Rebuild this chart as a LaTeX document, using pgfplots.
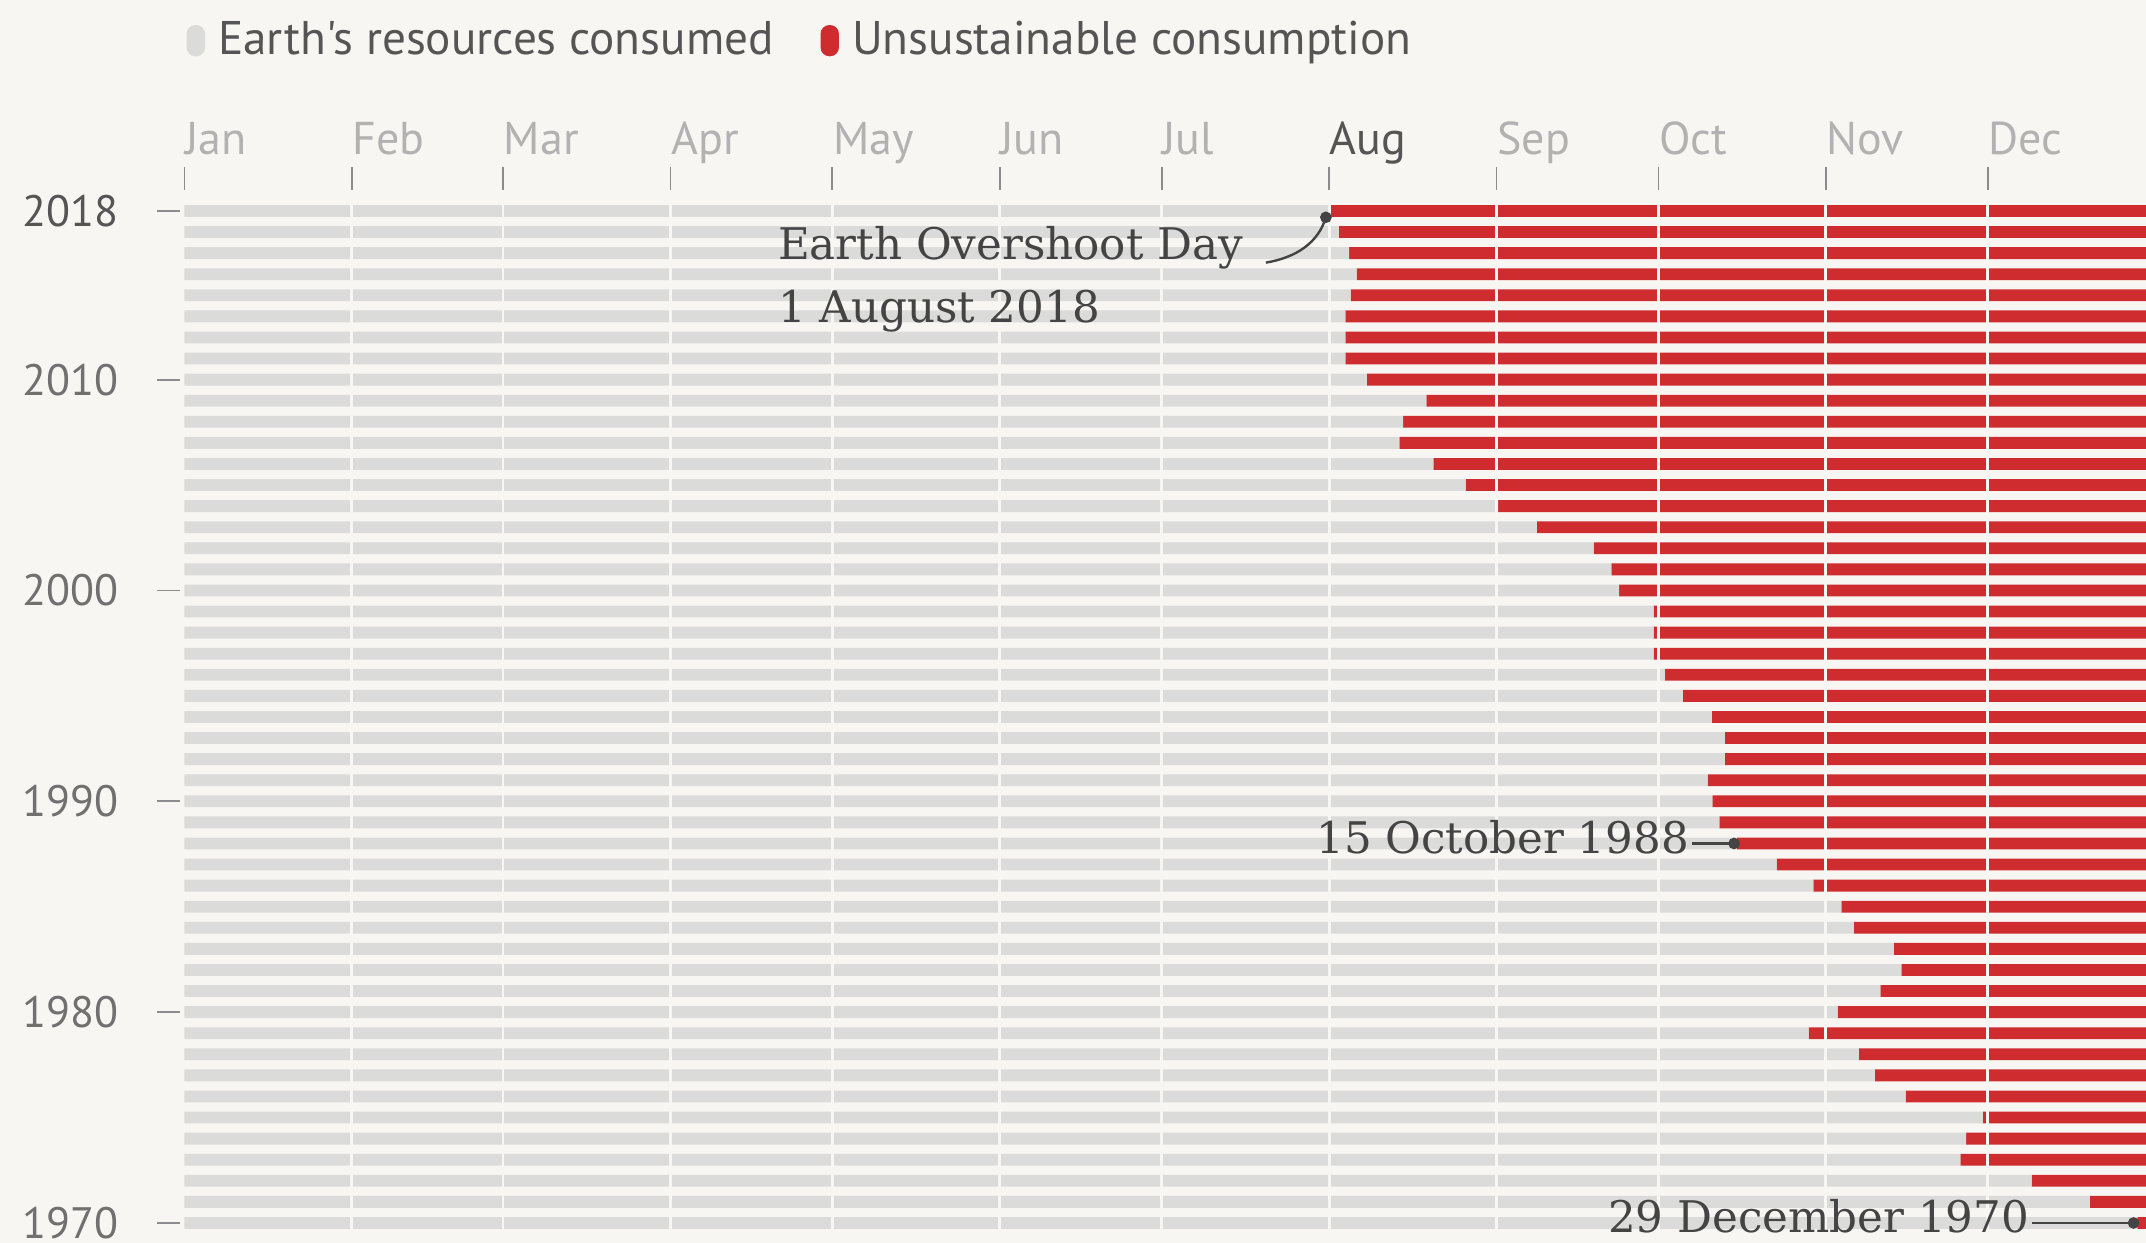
\documentclass[border=0pt]{standalone}
\usepackage{pgfplots}
\usepackage{pgfplotstable}
\pgfplotsset{compat=1.18}
\usepackage{fontspec}
\newfontfamily\gsans{PT Sans}
\newfontfamily\gserif{DejaVu Serif}
\definecolor{bg}{RGB}{247,246,243}
\definecolor{bargray}{RGB}{219,219,217}
\definecolor{barred}{RGB}{206,44,47}
\definecolor{txtdark}{RGB}{85,85,85}
\definecolor{txtyear}{RGB}{112,112,112}
\definecolor{txtmonth}{RGB}{178,178,178}
\definecolor{anno}{RGB}{68,68,68}
\definecolor{tickgray}{RGB}{140,140,140}

% day of year (0 = 1 Jan) on which Earth Overshoot Day falls; rest = days left in the year
\pgfplotstableread{
year day rest
1970 361.7 3.3
1971 352.9 12.1
1972 342.1 22.9
1973 328.9 36.1
1974 330.0 35.0
1975 333.1 31.9
1976 318.8 46.2
1977 313.1 51.9
1978 310.1 54.9
1979 300.8 64.2
1980 306.2 58.8
1981 314.1 50.9
1982 318.0 47.0
1983 316.6 48.4
1984 309.2 55.8
1985 306.9 58.1
1986 301.7 63.3
1987 294.9 70.1
1988 287.5 77.5
1989 284.3 80.7
1990 283.0 82.0
1991 282.1 82.9
1992 285.3 79.7
1993 285.3 79.7
1994 282.9 82.1
1995 277.5 87.5
1996 274.2 90.8
1997 272.1 92.9
1998 272.1 92.9
1999 272.1 92.9
2000 265.7 99.3
2001 264.3 100.7
2002 261.0 104.0
2003 250.5 114.5
2004 243.3 121.7
2005 237.3 127.7
2006 231.3 133.7
2007 225.0 140.0
2008 225.7 139.3
2009 230.0 135.0
2010 219.0 146.0
2011 215.0 150.0
2012 215.0 150.0
2013 215.0 150.0
2014 216.0 149.0
2015 217.1 147.9
2016 215.7 149.3
2017 213.8 151.2
2018 212.0 153.0
}\eod

\pgfplotsset{
  geom/.style={
    at={(46.125pt,0pt)}, anchor=south west,
    width=490.375pt, height=262.75pt, scale only axis,
    xmin=0, xmax=363.3, ymin=1969.05, ymax=2018.9,
  },
}

\begin{document}
\begin{tikzpicture}
\useasboundingbox (0pt,0pt) rectangle (536.5pt,310.75pt);
\fill[bg] (0pt,0pt) rectangle (536.5pt,310.75pt);
\begin{axis}[
  geom,
  xbar stacked, bar width=0.56,
  axis x line*=top, axis y line*=left,
  axis line style={draw=none},
  tick align=outside,
  major tick length=5.75pt,
  xtick={0,31,59,90,120,151,181,212,243,273,304,334},
  xticklabels={Jan,Feb,Mar,Apr,May,Jun,Jul,\textcolor{txtdark}{Aug},Sep,Oct,Nov,Dec},
  minor xtick={31,59,90,120,151,181,212,243,273,304,334},
  minor tick length=0pt,
  xminorgrids, minor grid style={draw=bg, line width=0.7pt},
  axis on top,
  ytick={1970,1980,1990,2000,2010,2018},
  yticklabels={1970,1980,1990,2000,2010,\textcolor{txtdark}{2018}},
  xtick style={draw=tickgray, line width=0.45pt, yshift=0.5pt},
  ytick style={draw=tickgray, line width=0.45pt, xshift=-1.1pt},
  xticklabel style={font=\gsans\fontsize{11.5}{11.5}\selectfont, text=txtmonth, anchor=base west, inner sep=0pt, yshift=3.7pt},
  yticklabel style={font=\gsans\fontsize{11}{11}\selectfont, text=txtyear, anchor=west, inner sep=0pt, xshift=-34.9pt},
  legend columns=2,
  legend cell align=left,
  legend style={draw=none, fill=none, at={(0.0011,1.144)}, anchor=west,
    inner sep=0pt, outer sep=0pt,
    font=\gsans\fontsize{11.8}{11.8}\selectfont, text=txtdark,
    nodes={inner sep=0pt},
    /tikz/every odd column/.append style={column sep=3.3pt},
    /tikz/every even column/.append style={column sep=11.7pt}},
]
\addplot[fill=bargray, draw=none,
  legend image code/.code={\fill[bargray,rounded corners=2.2pt] (0pt,-3.9pt) rectangle (4.6pt,3.9pt);}]
  table[x=day, y=year]{\eod};
\addlegendentry{Earth's resources consumed}
\addplot[fill=barred, draw=none,
  legend image code/.code={\fill[barred,rounded corners=2.2pt] (0pt,-3.9pt) rectangle (4.6pt,3.9pt);}]
  table[x=rest, y=year]{\eod};
\addlegendentry{Unsustainable consumption}
\end{axis}

% annotation layer, same geometry
\begin{axis}[geom, hide axis, clip=false]
\addplot[only marks, mark=*, mark size=1.25pt, color=anno]
  coordinates {(211.4,2017.7) (287,1988) (361,1970)};

\draw[anno, line width=0.6pt] (axis cs:200.3,2015.55) .. controls (axis cs:206,2015.8) and (axis cs:210,2016.5) .. (axis cs:211.4,2017.7);
\draw[anno, line width=0.6pt] (axis cs:279.2,1988) -- (axis cs:287,1988);
\draw[anno, line width=0.6pt] (axis cs:342.1,1970) -- (axis cs:361,1970);

\node[anchor=base west, inner sep=0pt, text=anno, font=\gserif\fontsize{10.9}{13}\selectfont] at (axis cs:109.8,2015.68) {Earth Overshoot Day};
\node[anchor=base west, inner sep=0pt, text=anno, font=\gserif\fontsize{10.9}{13}\selectfont] at (axis cs:109.8,2012.73) {1 August 2018};
\node[anchor=base east, inner sep=0pt, text=anno, font=\gserif\fontsize{10.9}{13}\selectfont] at (axis cs:278.8,1987.54) {15 October 1988};
\node[anchor=base east, inner sep=0pt, text=anno, font=\gserif\fontsize{10.9}{13}\selectfont] at (axis cs:341.8,1969.53) {29 December 1970};
\end{axis}
\end{tikzpicture}
\end{document}
